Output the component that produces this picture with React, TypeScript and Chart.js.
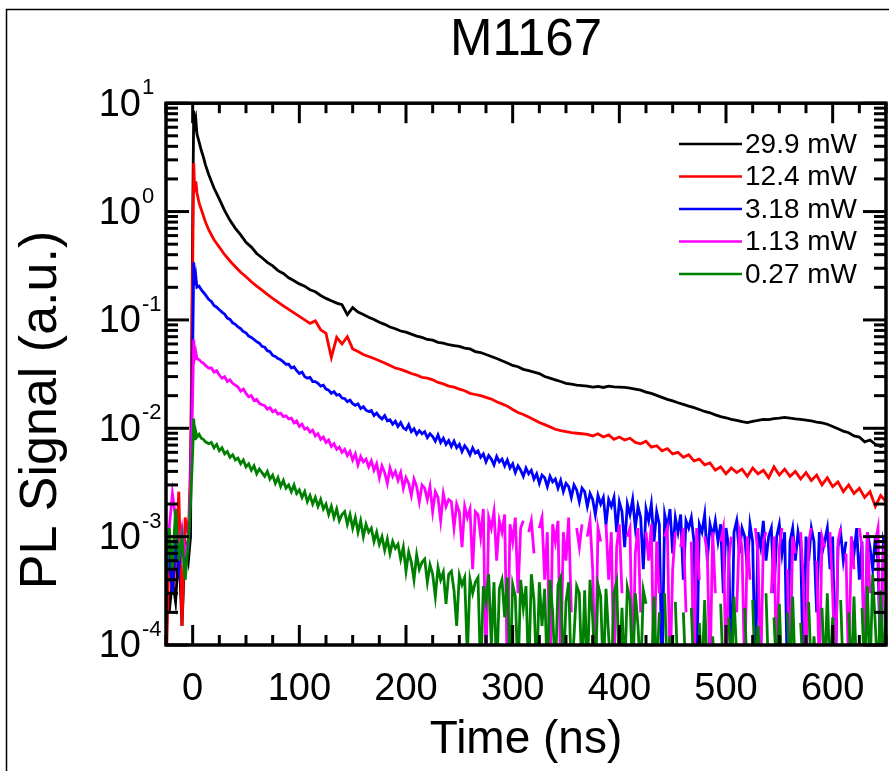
import { useEffect, useRef } from 'react';
import { Chart, registerables } from 'chart.js';

Chart.register(...registerables);

const FONT = "'Liberation Sans', Arial, Helvetica, sans-serif";

// time axis (ns) for the two strong, smooth traces
const timesCoarse = [
  -25, -22, -19, -16, -13, -10, -7, -4, -2, 0, 1, 2, 3, 4, 6, 8, 10, 12, 15,
  20, 25, 30, 35, 40, 45, 50, 55, 60, 65,
  70, 75, 80, 85, 90, 95, 100, 105, 110, 115,
  120, 125, 130, 135, 140, 145, 150, 155, 160, 165,
  170, 175, 180, 185, 190, 195, 200, 205, 210, 215,
  220, 225, 230, 235, 240, 245, 250, 255, 260, 265,
  270, 275, 280, 285, 290, 295, 300, 305, 310, 315,
  320, 325, 330, 335, 340, 345, 350, 355, 360, 365,
  370, 375, 380, 385, 390, 395, 400, 405, 410, 415,
  420, 425, 430, 435, 440, 445, 450, 455, 460, 465,
  470, 475, 480, 485, 490, 495, 500, 505, 510, 515,
  520, 525, 530, 535, 540, 545, 550, 555, 560, 565,
  570, 575, 580, 585, 590, 595, 600, 605, 610, 615,
  620, 625, 630, 635, 640, 645, 650,
];

// time axis (ns) for the three weaker, noisy traces
const timesFine = [
  -25, -22, -19, -16, -13, -10, -7, -4, -2, 0, 1, 2, 3, 4, 6, 8, 10, 12, 15,
  17.5, 20, 22.5, 25, 27.5, 30, 32.5, 35, 37.5, 40,
  42.5, 45, 47.5, 50, 52.5, 55, 57.5, 60, 62.5, 65,
  67.5, 70, 72.5, 75, 77.5, 80, 82.5, 85, 87.5, 90,
  92.5, 95, 97.5, 100, 102.5, 105, 107.5, 110, 112.5, 115,
  117.5, 120, 122.5, 125, 127.5, 130, 132.5, 135, 137.5, 140,
  142.5, 145, 147.5, 150, 152.5, 155, 157.5, 160, 162.5, 165,
  167.5, 170, 172.5, 175, 177.5, 180, 182.5, 185, 187.5, 190,
  192.5, 195, 197.5, 200, 202.5, 205, 207.5, 210, 212.5, 215,
  217.5, 220, 222.5, 225, 227.5, 230, 232.5, 235, 237.5, 240,
  242.5, 245, 247.5, 250, 252.5, 255, 257.5, 260, 262.5, 265,
  267.5, 270, 272.5, 275, 277.5, 280, 282.5, 285, 287.5, 290,
  292.5, 295, 297.5, 300, 302.5, 305, 307.5, 310, 312.5, 315,
  317.5, 320, 322.5, 325, 327.5, 330, 332.5, 335, 337.5, 340,
  342.5, 345, 347.5, 350, 352.5, 355, 357.5, 360, 362.5, 365,
  367.5, 370, 372.5, 375, 377.5, 380, 382.5, 385, 387.5, 390,
  392.5, 395, 397.5, 400, 402.5, 405, 407.5, 410, 412.5, 415,
  417.5, 420, 422.5, 425, 427.5, 430, 432.5, 435, 437.5, 440,
  442.5, 445, 447.5, 450, 452.5, 455, 457.5, 460, 462.5, 465,
  467.5, 470, 472.5, 475, 477.5, 480, 482.5, 485, 487.5, 490,
  492.5, 495, 497.5, 500, 502.5, 505, 507.5, 510, 512.5, 515,
  517.5, 520, 522.5, 525, 527.5, 530, 532.5, 535, 537.5, 540,
  542.5, 545, 547.5, 550, 552.5, 555, 557.5, 560, 562.5, 565,
  567.5, 570, 572.5, 575, 577.5, 580, 582.5, 585, 587.5, 590,
  592.5, 595, 597.5, 600, 602.5, 605, 607.5, 610, 612.5, 615,
  617.5, 620, 622.5, 625, 627.5, 630, 632.5, 635, 637.5, 640,
  642.5, 645, 647.5, 650,
];

const seriesLabels = ['29.9 mW', '12.4 mW', '3.18 mW', '1.13 mW', '0.27 mW'];
const seriesColors = ['#000000', '#ff0000', '#0000ff', '#ff00ff', '#008000'];

const pl29_9 = [
  5e-4, 2e-4, 4e-4, 2.5e-4, 8e-4, 1.5e-4, 9e-4, 6e-4, 1e-3, 0.8, 8.5, 6.2, 7.0, 5.2, 4.4, 3.7, 3.2, 2.7, 2.2,
  1.65, 1.3, 1.02, 0.83, 0.70, 0.61, 0.52, 0.47, 0.41, 0.375,
  0.34, 0.315, 0.285, 0.268, 0.245, 0.23, 0.215, 0.205, 0.19, 0.182,
  0.168, 0.158, 0.15, 0.143, 0.138, 0.112, 0.13, 0.118, 0.112, 0.106,
  0.101, 0.095, 0.091, 0.086, 0.083, 0.079, 0.077, 0.074, 0.071, 0.069,
  0.066, 0.065, 0.062, 0.061, 0.059, 0.058, 0.057, 0.055, 0.054, 0.051,
  0.050, 0.048, 0.046, 0.044, 0.042, 0.040, 0.038, 0.037, 0.035, 0.034,
  0.033, 0.032, 0.030, 0.029, 0.028, 0.027, 0.026, 0.0255, 0.025, 0.0248,
  0.0245, 0.024, 0.0243, 0.0238, 0.0245, 0.0241, 0.024, 0.0238, 0.0235, 0.023,
  0.0225, 0.0216, 0.021, 0.0201, 0.0193, 0.0185, 0.0179, 0.0172, 0.0166, 0.016,
  0.0155, 0.0149, 0.0143, 0.0139, 0.0133, 0.0128, 0.0125, 0.0121, 0.0118, 0.0115,
  0.0113, 0.0116, 0.0118, 0.0121, 0.012, 0.0123, 0.0124, 0.0126, 0.0124, 0.0122,
  0.0121, 0.0119, 0.0117, 0.0114, 0.0112, 0.0109, 0.0104, 0.0099, 0.0094, 0.0091,
  0.0085, 0.0083, 0.0075, 0.0078, 0.0071, 0.0068, 0.007,
];

const pl12_4 = [
  5e-5, 8e-4, 3e-4, 6e-4, 2.6e-3, 1.5e-4, 1.5e-3, 1e-3, 5e-3, 0.3, 2.8, 1.5, 1.9, 1.5, 1.2, 1.05, 0.92, 0.8, 0.68,
  0.55, 0.47, 0.40, 0.35, 0.31, 0.275, 0.25, 0.225, 0.205, 0.188,
  0.172, 0.158, 0.146, 0.135, 0.125, 0.116, 0.108, 0.1, 0.093, 0.098,
  0.081, 0.075, 0.045, 0.069, 0.06, 0.07, 0.054, 0.051, 0.048, 0.046,
  0.044, 0.042, 0.04, 0.038, 0.036, 0.035, 0.0335, 0.032, 0.031, 0.0295,
  0.029, 0.028, 0.0265, 0.0257, 0.0245, 0.024, 0.023, 0.0222, 0.021, 0.0205,
  0.02, 0.0193, 0.0186, 0.0176, 0.0168, 0.016, 0.0149, 0.014, 0.0134, 0.0127,
  0.012, 0.0113, 0.0108, 0.0103, 0.0098, 0.0095, 0.0093, 0.0091, 0.009, 0.0089,
  0.0088, 0.0085, 0.0089, 0.0083, 0.0087, 0.0079, 0.0083, 0.0078, 0.0081, 0.0074,
  0.0072, 0.0076, 0.0067, 0.0069, 0.0062, 0.0065, 0.0058, 0.006, 0.0054, 0.0057,
  0.005, 0.0052, 0.0046, 0.0048, 0.0041, 0.0044, 0.0038, 0.0043, 0.0039, 0.0042,
  0.0036, 0.0043, 0.0038, 0.0041, 0.0035, 0.0044, 0.0037, 0.0042, 0.0036, 0.004,
  0.0034, 0.0039, 0.0033, 0.0037, 0.003, 0.0035, 0.0029, 0.0032, 0.0026, 0.003,
  0.0025, 0.0028, 0.0023, 0.0026, 0.0019, 0.0024, 0.0021,
];

const pl3_18 = [
  4e-4, 7e-4, 3e-4, 9e-4, 5e-4, 1e-3, 6e-4, 8e-4, 3e-3, 0.05, 0.34, 0.21, 0.25, 0.2, 0.205, 0.19, 0.18, 0.17, 0.155,
  0.148, 0.136, 0.131, 0.124, 0.118, 0.113, 0.104, 0.101, 0.094, 0.091,
  0.086, 0.083, 0.078, 0.076, 0.071, 0.069, 0.066, 0.063, 0.061, 0.057,
  0.056, 0.052, 0.051, 0.047, 0.046, 0.044, 0.043, 0.041, 0.039, 0.039,
  0.036, 0.037, 0.034, 0.032, 0.033, 0.030, 0.029, 0.0295, 0.027, 0.027,
  0.026, 0.0245, 0.025, 0.023, 0.0225, 0.021, 0.0218, 0.0202, 0.0205, 0.019,
  0.0188, 0.0176, 0.0182, 0.0169, 0.0163, 0.0168, 0.0152, 0.0158, 0.0147, 0.0143,
  0.0146, 0.0131, 0.0138, 0.0128, 0.0122, 0.0131, 0.0117, 0.012, 0.0109, 0.0116,
  0.0104, 0.0113, 0.0101, 0.0097, 0.0108, 0.0093, 0.0099, 0.0088, 0.0095, 0.0089,
  0.0093, 0.0082, 0.0089, 0.0084, 0.0076, 0.0087, 0.0074, 0.0081, 0.0071, 0.0077,
  0.0068, 0.0076, 0.0066, 0.0071, 0.0061, 0.0069, 0.0064, 0.0057, 0.0066, 0.0059,
  0.0062, 0.0054, 0.0058, 0.0049, 0.0056, 0.0052, 0.0046, 0.0055, 0.0049, 0.0052,
  0.0045, 0.0051, 0.0043, 0.0047, 0.0039, 0.0045, 0.0041, 0.0036, 0.0043, 0.0038,
  0.0041, 0.0034, 0.0038, 0.0031, 0.0037, 0.0035, 0.0029, 0.0036, 0.0032, 0.0034,
  0.0028, 0.0033, 0.0026, 0.0031, 0.0029, 0.0023, 0.0030, 0.0027, 0.0021, 0.0028,
  0.0026, 0.0019, 0.0025, 0.0022, 0.0016, 0.0024, 0.002, 0.0023, 0.0013, 0.0022,
  0.0019, 0.0023, 0.0011, 0.0021, 0.0017, 0.0008, 0.002, 0.0016, 0.0022, 0.0012,
  0.0019, 0.0015, 0.0005, 0.0018, 0.0014, 0.002, 0.0009, 0.0017, 0.0013, 0.00005,
  0.0016, 0.0012, 0.0018, 0.0007, 0.0015, 0.0011, 0.0016, 0.0004, 0.0014, 0.0012,
  0.0015, 0.0009, 0.00005, 0.0013, 0.0011, 0.0016, 0.0006, 0.0013, 0.001, 0.0014,
  0.0009, 0.0013, 0.0003, 0.0012, 0.0008, 0.00005, 0.0011, 0.0014, 0.0007, 0.0012,
  0.001, 0.0005, 0.0013, 0.0009, 0.00005, 0.0011, 0.0008, 0.0014, 0.0006, 0.001,
  0.0012, 0.0003, 0.001, 0.0013, 0.0007, 0.0011, 0.00005, 0.0009, 0.0012, 0.0006,
  0.0011, 0.0008, 0.00005, 0.001, 0.0006, 0.0012, 0.0009, 0.0002, 0.0011, 0.0007,
  0.0009, 0.0012, 0.0005, 0.001, 0.00005, 0.0008, 0.0011, 0.0006, 0.0009, null,
  0.001, 0.0007, 0.0012, 0.0004, 0.0009, 0.00005, 0.0011, 0.0008, 0.0005, 0.001,
  0.0006, 0.00005, 0.0009, 0.0007,
];

const pl1_13 = [
  6e-4, 1.2e-3, 2.5e-3, 1.5e-3, 8e-4, 1.2e-3, 7e-4, 9e-4, 3e-3, 0.02, 0.066, 0.045, 0.05, 0.044, 0.043, 0.041, 0.04, 0.038, 0.036,
  0.036, 0.033, 0.034, 0.031, 0.029, 0.03, 0.027, 0.028, 0.026, 0.025,
  0.024, 0.022, 0.023, 0.021, 0.0195, 0.020, 0.018, 0.0185, 0.017, 0.0165,
  0.0162, 0.015, 0.0155, 0.0142, 0.0147, 0.0135, 0.0138, 0.0128, 0.013, 0.0122,
  0.0124, 0.0112, 0.0117, 0.0104, 0.0109, 0.0098, 0.0101, 0.0092, 0.0096, 0.0085,
  0.0089, 0.0079, 0.0083, 0.0074, 0.0078, 0.0068, 0.0072, 0.0064, 0.0067, 0.006,
  0.0064, 0.0056, 0.0061, 0.0051, 0.0058, 0.0046, 0.0055, 0.0049, 0.0052, 0.0044,
  0.005, 0.0041, 0.0047, 0.0035, 0.0045, 0.0039, 0.0031, 0.0043, 0.0036, 0.004,
  0.0033, 0.0039, 0.0028, 0.0035, 0.0031, 0.0024, 0.0034, 0.0029, 0.0021, 0.003,
  0.0028, 0.0022, 0.0029, 0.0017, 0.0026, 0.0023, 0.0014, 0.0025, 0.0019, 0.0022,
  0.0021, 0.0012, 0.002, 0.0017, 0.0008, 0.0019, 0.0015, 0.0018, 0.0005, 0.0017,
  0.0016, 0.001, 0.0018, 0.00005, 0.0015, 0.0012, 0.0017, 0.0006, 0.0014, 0.0011,
  0.0016, 0.00005, 0.0013, 0.0009, 0.0015, 0.0003, 0.0012, 0.0014, null, 0.0011,
  0.0014, 0.0007, null, 0.0012, 0.0015, 0.0004, 0.0011, 0.00005, 0.0013, 0.0009,
  0.0014, 0.00005, 0.0011, 0.0006, 0.0015, 0.0002, null, 0.0012, 0.0008, 0.0013,
  null, 0.001, 0.0014, 0.0005, 0.00005, 0.0012, 0.0009, null, 0.0013, 0.0004,
  0.0011, 0.00005, 0.0008, 0.0013, 0.0003, null, 0.001, 0.0012, 0.00005, 0.0007,
  0.0012, 0.0002, null, 0.0011, 0.0006, 0.0013, 0.00005, 0.0009, 0.0003, null,
  0.001, 0.0012, 0.00005, 0.0005, 0.0011, null, 0.0008, 0.0012, 0.0002, null,
  0.0009, 0.00005, 0.0012, 0.0004, null, 0.001, 0.0007, 0.00005, 0.0011, 0.0003,
  null, 0.0009, 0.0012, 0.00005, 0.0006, 0.001, null, 0.0002, 0.0011, 0.0008,
  0.00005, 0.001, 0.0004, null, 0.0012, 0.0007, 0.00005, 0.0009, 0.0011, null,
  0.0003, 0.001, 0.00005, 0.0008, 0.0012, null, 0.0005, 0.00005, 0.001, 0.0007,
  null, 0.0011, 0.0004, 0.00005, 0.0009, 0.0012, null, 0.0006, 0.00005, 0.001,
  0.0008, null, 0.0011, 0.0003, 0.00005, 0.0009, 0.0012, null, 0.0007, 0.00005,
  0.001, 0.0005, null, 0.0012, 0.0008, 0.00005, 0.0011, 0.0003, null, 0.0009,
  0.0012, 0.00005, 0.0007, 0.001,
];

const pl0_27 = [
  3e-4, 1.2e-3, 5e-4, 1.8e-3, 6e-4, 1e-3, 4e-4, 9e-4, 2e-3, 0.006, 0.0123, 0.0078, 0.0092, 0.0083, 0.0088, 0.0081, 0.0079, 0.0075, 0.0072,
  0.0074, 0.0066, 0.0071, 0.0062, 0.0066, 0.0058, 0.0061, 0.0054, 0.0057, 0.0051,
  0.0053, 0.0047, 0.0051, 0.0044, 0.0047, 0.0041, 0.0045, 0.0038, 0.0042, 0.0039,
  0.0036, 0.004, 0.0034, 0.0037, 0.0031, 0.0035, 0.0029, 0.0033, 0.0028, 0.003,
  0.0026, 0.003, 0.0025, 0.0027, 0.0023, 0.0026, 0.0021, 0.0024, 0.002, 0.0023,
  0.0019, 0.0022, 0.0018, 0.002, 0.0016, 0.0019, 0.0015, 0.0018, 0.0014, 0.0016,
  0.0017, 0.0013, 0.0016, 0.0012, 0.0015, 0.0011, 0.0014, 0.001, 0.0013, 0.0011,
  0.0012, 0.0009, 0.0011, 0.00085, 0.001, 0.00075, 0.00095, 0.0007, 0.0009, 0.00078,
  0.00085, 0.00062, 0.0008, 0.00048, 0.00072, 0.00058, 0.0004, 0.00068, 0.0005, 0.00058,
  0.00062, 0.00038, 0.00055, 0.00045, 0.00028, 0.00052, 0.0004, 0.00047, 0.00024, 0.00045,
  0.00048, 0.00032, 0.00015, 0.00044, 0.00036, 0.00042, 0.00008, 0.0004, 0.0003, 0.00038,
  0.00042, 0.00005, 0.00035, 0.00025, 0.00045, 0.0001, 0.00038, 0.00005, 0.00033, 0.0004,
  0.00018, 0.00042, 0.00005, 0.00036, 0.00028, 0.00005, 0.0004, 0.00022, 0.00035, 0.00005,
  0.00045, 0.00026, 0.00005, 0.00038, 0.00015, 0.00033, 0.00005, 0.0004, 0.0002, 0.00005,
  0.00036, 0.00042, 0.00005, 0.00025, 0.00038, 0.00005, 0.00012, 0.00035, 0.0003, 0.00005,
  0.00032, 0.00005, 0.0004, 0.00018, 0.00005, 0.00036, 0.00028, 0.00005, 0.00033, 0.00012,
  0.00005, 0.0003, 0.00038, 0.00005, 0.00022, 0.00005, 0.00034, 0.00026, 0.00005, 0.0003,
  0.00015, 0.00005, 0.00032, 0.00024, null, 0.00005, 0.00028, 0.00005, 0.0002, null,
  0.0003, 0.00005, 0.00012, null, 0.00025, 0.00005, null, 0.0002, 0.00005, null,
  0.00022, 0.00005, null, 0.00016, 0.00005, 0.00026, 0.00005, null, 0.00012, 0.00005,
  null, 0.00024, 0.00005, null, 0.00018, 0.00005, 0.00028, 0.00008, 0.00005, null,
  0.00022, 0.00005, null, 0.00026, 0.00005, 0.00015, 0.00005, null, 0.0003, 0.00005,
  null, 0.00018, 0.00005, 0.00024, 0.00005, null, 0.0002, 0.00005, 0.00028, 0.00005,
  null, 0.00016, 0.00005, null, 0.00025, 0.00005, 0.00012, 0.00005, null, 0.00022,
  0.00005, 0.0003, 0.00005, 0.00018, 0.00005, null, 0.00026, 0.00005, null, 0.0002,
  0.00005, 0.00028, 0.00005, null, 0.00022, 0.00005, 0.00035, 0.00005, 0.00045, 0.00015,
  0.00005, 0.00032, 0.00005, 0.00025,
];

const seriesValues = [pl29_9, pl12_4, pl3_18, pl1_13, pl0_27];
const seriesTimes = [timesCoarse, timesCoarse, timesFine, timesFine, timesFine];

const xTickValues = [0, 100, 200, 300, 400, 500, 600];
const xTickLabels = ['0', '100', '200', '300', '400', '500', '600'];
const yTickValues = [10, 1, 0.1, 0.01, 0.001, 0.0001];
const yTickExponents = ['1', '0', '-1', '-2', '-3', '-4'];

const X_MIN = -25;
const X_MAX = 650;
const X_MINOR_STEP = 25;
const Y_MIN = 1e-4;
const Y_MAX = 10;

const chartTitle = 'M1167';
const xTitle = 'Time (ns)';
const yTitle = 'PL Signal (a.u.)';

const framePlugin = {
  id: 'frameTicksLabels',
  beforeDraw(chart: any) {
    const ctx = chart.ctx;
    ctx.save();
    ctx.fillStyle = '#ffffff';
    ctx.fillRect(0, 0, chart.width, chart.height);
    ctx.strokeStyle = '#000000';
    ctx.lineWidth = 1.5;
    ctx.strokeRect(6.5, 9.5, chart.width + 40, chart.height + 40);
    ctx.restore();
  },
  afterDatasetsDraw(chart: any) {
    const { ctx, chartArea: a, scales } = chart;
    const xs = scales.x;
    const ys = scales.y;
    ctx.save();
    ctx.strokeStyle = '#000000';
    ctx.lineCap = 'butt';
    const seg = (x1: number, y1: number, x2: number, y2: number) => {
      ctx.beginPath();
      ctx.moveTo(x1, y1);
      ctx.lineTo(x2, y2);
      ctx.stroke();
    };
    ctx.lineWidth = 3;
    for (let v = X_MIN; v <= X_MAX; v += X_MINOR_STEP) {
      const px = xs.getPixelForValue(v);
      const len = xTickValues.includes(v) ? 20 : 10;
      seg(px, a.bottom, px, a.bottom - len);
      seg(px, a.top, px, a.top + len);
    }
    yTickValues.forEach((d) => {
      const py = ys.getPixelForValue(d);
      seg(a.left, py, a.left + 23, py);
      seg(a.right, py, a.right - 23, py);
      if (d < Y_MAX) {
        for (let m = 2; m <= 9; m++) {
          const pm = ys.getPixelForValue(d * m);
          seg(a.left, pm, a.left + 12, pm);
          seg(a.right, pm, a.right - 12, pm);
        }
      }
    });
    ctx.lineWidth = 3.5;
    ctx.strokeRect(a.left, a.top, a.right - a.left, a.bottom - a.top);

    ctx.fillStyle = '#000000';
    ctx.font = `38px ${FONT}`;
    ctx.textAlign = 'center';
    ctx.textBaseline = 'alphabetic';
    xTickValues.forEach((v, i) => {
      ctx.fillText(xTickLabels[i], xs.getPixelForValue(v), 700);
    });
    yTickValues.forEach((d, i) => {
      const py = ys.getPixelForValue(d);
      ctx.font = `38px ${FONT}`;
      ctx.textAlign = 'right';
      ctx.textBaseline = 'middle';
      ctx.fillText('10', 141, py + 2);
      ctx.font = `22px ${FONT}`;
      ctx.textAlign = 'left';
      ctx.fillText(yTickExponents[i], 142, py - 15);
    });
    ctx.save();
    ctx.translate(42, 410);
    ctx.rotate(-Math.PI / 2);
    ctx.font = `52px ${FONT}`;
    ctx.textAlign = 'center';
    ctx.textBaseline = 'middle';
    ctx.fillText(yTitle, 0, 0);
    ctx.restore();
    ctx.font = `28px ${FONT}`;
    ctx.textAlign = 'left';
    ctx.textBaseline = 'middle';
    seriesLabels.forEach((lab, i) => {
      const yy = 144 + i * 32.5;
      ctx.strokeStyle = seriesColors[i];
      ctx.lineWidth = 2.5;
      seg(679, yy, 742, yy);
      ctx.fillText(lab, 745, yy + 1);
    });
    ctx.restore();
  },
};

export default function App() {
  const ref = useRef<HTMLCanvasElement | null>(null);
  useEffect(() => {
    document.body.style.margin = '0';
    const canvas = ref.current;
    if (!canvas) return;
    const datasets = seriesValues.map((vals, i) => ({
      label: seriesLabels[i],
      data: seriesTimes[i].map((t, k) => ({ x: t, y: vals[k] })),
      borderColor: seriesColors[i],
      backgroundColor: seriesColors[i],
      borderWidth: 2.8,
      pointRadius: 0,
      tension: 0,
      fill: false,
      spanGaps: false,
      order: seriesValues.length - i,
    }));
    const chart = new Chart(canvas, {
      type: 'line',
      data: { datasets },
      options: {
        responsive: false,
        animation: false,
        devicePixelRatio: 1,
        events: [],
        layout: { padding: { left: 166, right: 3, top: 0, bottom: 0 } },
        plugins: {
          legend: { display: false },
          tooltip: { enabled: false },
          title: {
            display: true,
            text: chartTitle,
            color: '#000000',
            font: { family: FONT, size: 51, weight: 'normal' },
            padding: { top: 10, bottom: 32 },
          },
        },
        scales: {
          x: {
            type: 'linear',
            min: X_MIN,
            max: X_MAX,
            ticks: { display: false },
            grid: { display: false, drawTicks: false },
            border: { display: false },
            title: {
              display: true,
              text: xTitle,
              color: '#000000',
              font: { family: FONT, size: 46, weight: 'normal' },
              padding: { top: 0, bottom: 3 },
            },
            afterFit: (s: any) => {
              s.height = 126;
            },
          },
          y: {
            type: 'logarithmic',
            display: false,
            min: Y_MIN,
            max: Y_MAX,
          },
        },
      },
      plugins: [framePlugin],
    } as any);
    return () => chart.destroy();
  }, []);
  return (
    <div style={{ position: 'fixed', left: 0, top: 0, width: 889, height: 771 }}>
      <canvas ref={ref} width={889} height={771} style={{ display: 'block' }} />
    </div>
  );
}
